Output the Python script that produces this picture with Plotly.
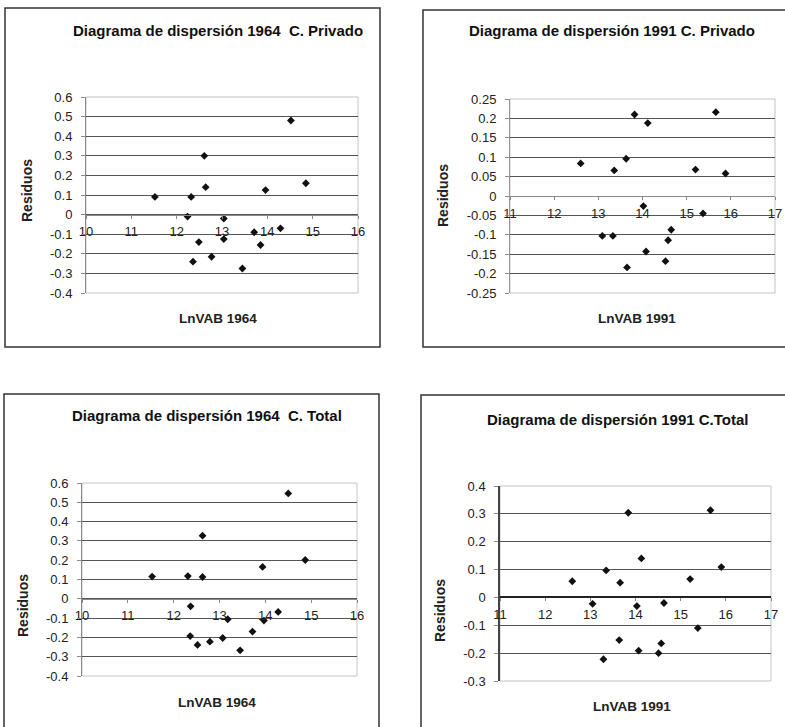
import plotly.graph_objects as go

W, H = 785, 727

# ---------------- data ----------------
lnvab_1964_priv = [11.52, 12.32, 12.24, 12.61, 12.64, 12.49, 12.36, 12.77, 13.04, 13.04,
                   13.45, 13.71, 13.85, 13.96, 14.29, 14.52, 14.85]
res_1964_priv = [0.09, 0.09, -0.01, 0.30, 0.14, -0.14, -0.24, -0.215, -0.02, -0.125,
                 -0.275, -0.09, -0.155, 0.125, -0.07, 0.48, 0.16]

lnvab_1991_priv = [12.60, 13.36, 13.63, 13.82, 14.12, 14.02, 15.20, 15.37, 15.66, 15.88,
                   13.09, 13.33, 13.65, 14.08, 14.52, 14.58, 14.65]
res_1991_priv = [0.084, 0.066, 0.096, 0.210, 0.188, -0.026, 0.068, -0.045, 0.216, 0.058,
                 -0.103, -0.103, -0.184, -0.143, -0.168, -0.114, -0.087]

lnvab_1964_tot = [11.53, 12.31, 12.63, 12.63, 12.37, 12.36, 12.52, 12.79, 13.07, 13.18,
                  13.45, 13.72, 13.94, 13.97, 14.28, 14.50, 14.87]
res_1964_tot = [0.115, 0.118, 0.113, 0.327, -0.039, -0.193, -0.239, -0.222, -0.203, -0.106,
                -0.267, -0.170, 0.165, -0.113, -0.068, 0.546, 0.201]

lnvab_1991_tot = [12.60, 13.05, 13.29, 13.35, 13.64, 13.66, 13.84, 14.03, 14.07, 14.13,
                  14.51, 14.57, 14.63, 15.21, 15.38, 15.66, 15.90]
res_1991_tot = [0.058, -0.023, -0.222, 0.097, -0.153, 0.053, 0.304, -0.031, -0.191, 0.140,
                -0.200, -0.165, -0.020, 0.066, -0.110, 0.313, 0.109]

titles = ["Diagrama de dispersión 1964  C. Privado",
          "Diagrama de dispersión 1991 C. Privado",
          "Diagrama de dispersión 1964  C. Total",
          "Diagrama de dispersión 1991 C.Total"]
x_titles = ["LnVAB 1964", "LnVAB 1991", "LnVAB 1964", "LnVAB 1991"]
y_title = "Residuos"

x_ticks_1964 = [10, 11, 12, 13, 14, 15, 16]
x_ticks_1991 = [11, 12, 13, 14, 15, 16, 17]
y_ticks_a = [0.6, 0.5, 0.4, 0.3, 0.2, 0.1, 0, -0.1, -0.2, -0.3, -0.4]
y_labels_a = ["0.6", "0.5", "0.4", "0.3", "0.2", "0.1", "0", "-0.1", "-0.2", "-0.3", "-0.4"]
y_ticks_b = [0.25, 0.2, 0.15, 0.1, 0.05, 0, -0.05, -0.1, -0.15, -0.2, -0.25]
y_labels_b = ["0.25", "0.2", "0.15", "0.1", "0.05", "0", "-0.05", "-0.1", "-0.15", "-0.2", "-0.25"]
y_ticks_c = [0.4, 0.3, 0.2, 0.1, 0, -0.1, -0.2, -0.3]
y_labels_c = ["0.4", "0.3", "0.2", "0.1", "0", "-0.1", "-0.2", "-0.3"]

# ---------------- layout helpers (pixel geometry) ----------------
def fx(px):
    return px / W

def fy(py):
    return 1 - py / H

panels = [
    dict(x=lnvab_1964_priv, y=res_1964_priv, xr=[10, 16], yr=[-0.4, 0.6],
         xt=x_ticks_1964, yt=y_ticks_a, yl=y_labels_a,
         plot=(86, 358, 97, 293), frame=(5, 380, 8, 347),
         title=(218, 31), ytit=(27, 191), xtit=(218, 318),
         xline=dict(color="#8a8a8a", width=1), yline=dict(color="#8a8a8a", width=1)),
    dict(x=lnvab_1991_priv, y=res_1991_priv, xr=[11, 17], yr=[-0.25, 0.25],
         xt=x_ticks_1991, yt=y_ticks_b, yl=y_labels_b,
         plot=(510, 775, 99, 293), frame=(423, 792, 10, 347),
         title=(612, 30), ytit=(443, 196), xtit=(637, 318),
         xline=dict(color="#8a8a8a", width=1), yline=dict(color="#9a9a9a", width=1)),
    dict(x=lnvab_1964_tot, y=res_1964_tot, xr=[10, 16], yr=[-0.4, 0.6],
         xt=x_ticks_1964, yt=y_ticks_a, yl=y_labels_a,
         plot=(82, 357, 483, 676), frame=(4, 379, 394, 740),
         title=(207, 415), ytit=(23, 606), xtit=(217, 702),
         xline=dict(color="#8a8a8a", width=1), yline=dict(color="#8a8a8a", width=1)),
    dict(x=lnvab_1991_tot, y=res_1991_tot, xr=[11, 17], yr=[-0.3, 0.4],
         xt=x_ticks_1991, yt=y_ticks_c, yl=y_labels_c,
         plot=(500, 771, 486, 681), frame=(421, 800, 395, 740),
         title=(617, 419), ytit=(440, 611), xtit=(632, 706),
         xline=dict(color="#222222", width=2), yline=dict(color="#444444", width=1.5)),
]

FONT = "Liberation Sans, Arial, sans-serif"
fig = go.Figure()
shapes = []
annotations = []
layout_axes = {}

for i, p in enumerate(panels, start=1):
    sx = "" if i == 1 else str(i)
    xa, ya = "x" + sx, "y" + sx
    x0, x1, y0, y1 = p["plot"]
    ydom = [fy(y1), fy(y0)]
    zero_frac = ydom[0] + (0 - p["yr"][0]) / (p["yr"][1] - p["yr"][0]) * (ydom[1] - ydom[0])

    fig.add_trace(go.Scatter(
        x=p["x"], y=p["y"], mode="markers", xaxis=xa, yaxis=ya,
        marker=dict(symbol="diamond", size=6, color="#111111"),
        showlegend=False, hoverinfo="x+y"))

    layout_axes["xaxis" + sx] = dict(
        domain=[fx(x0), fx(x1)], range=p["xr"], anchor="free", position=zero_frac,
        automargin=False,
        tickvals=p["xt"], ticktext=[str(v) for v in p["xt"]],
        showgrid=False, zeroline=False, showline=True,
        linecolor=p["xline"]["color"], linewidth=p["xline"]["width"],
        ticks="outside", ticklen=3, tickcolor="#8a8a8a",
        tickfont=dict(family=FONT, size=13, color="#222"), ticklabelstandoff=2,
        fixedrange=True)
    layout_axes["yaxis" + sx] = dict(
        domain=ydom, range=p["yr"], anchor=xa, automargin=False,
        tickvals=p["yt"], ticktext=p["yl"],
        showgrid=True, gridcolor="#555555", gridwidth=1, zeroline=False,
        showline=True, linecolor=p["yline"]["color"], linewidth=p["yline"]["width"],
        ticks="outside", ticklen=4, tickcolor="#8a8a8a",
        tickfont=dict(family=FONT, size=13, color="#222"), ticklabelstandoff=6,
        fixedrange=True)

    # plot-area border (light)
    shapes.append(dict(type="rect", xref=xa + " domain", yref=ya + " domain",
                       x0=0, x1=1, y0=0, y1=1, line=dict(color="#c4c4c4", width=1),
                       layer="below"))
    # chart frame
    fx0, fx1, fy0, fy1 = p["frame"]
    shapes.append(dict(type="rect", xref="paper", yref="paper",
                       x0=fx(fx0), x1=fx(fx1), y0=fy(fy1), y1=fy(fy0),
                       line=dict(color="#333333", width=1.5)))

    t = p["title"]
    annotations.append(dict(text="<b>%s</b>" % titles[i - 1], xref="paper", yref="paper",
                            x=fx(t[0]), y=fy(t[1]), xanchor="center", yanchor="middle",
                            showarrow=False, font=dict(family=FONT, size=15, color="#111")))
    yt = p["ytit"]
    annotations.append(dict(text="<b>%s</b>" % y_title, xref="paper", yref="paper",
                            x=fx(yt[0]), y=fy(yt[1]), xanchor="center", yanchor="middle",
                            textangle=-90, showarrow=False,
                            font=dict(family=FONT, size=14, color="#222")))
    xt = p["xtit"]
    annotations.append(dict(text="<b>%s</b>" % x_titles[i - 1], xref="paper", yref="paper",
                            x=fx(xt[0]), y=fy(xt[1]), xanchor="center", yanchor="middle",
                            showarrow=False, font=dict(family=FONT, size=13.5, color="#222")))

fig.update_layout(
    width=W, height=H, margin=dict(l=0, r=0, t=0, b=0, autoexpand=False),
    paper_bgcolor="white", plot_bgcolor="white",
    shapes=shapes, annotations=annotations, **layout_axes)

fig.write_html("out.html",
               config={"displayModeBar": False},
               post_script="document.body.style.margin='0';"
                           "document.body.style.overflow='hidden';")
